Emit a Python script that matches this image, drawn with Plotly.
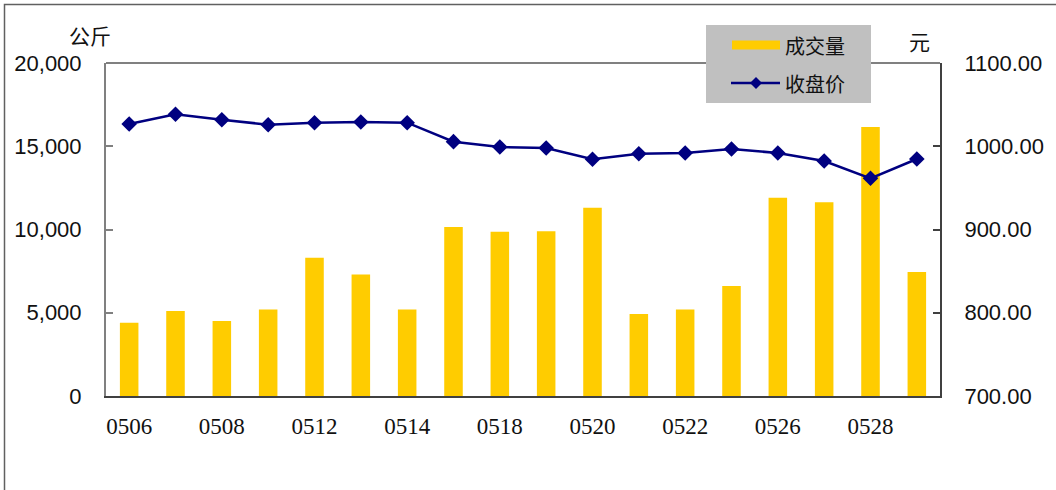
import plotly.graph_objects as go

# ---- data ----
dates = ["0506", "0507", "0508", "0511", "0512", "0513", "0514", "0515", "0518",
         "0519", "0520", "0521", "0522", "0525", "0526", "0527", "0528", "0529"]
volume = [4400, 5100, 4500, 5200, 8300, 7300, 5200, 10150, 9870,
          9890, 11300, 4930, 5200, 6600, 11900, 11630, 16150, 7450]
price = [1026.7, 1038.4, 1031.9, 1025.9, 1028.3, 1029.1, 1028.3, 1005.5, 999.1,
         997.9, 984.3, 991.0, 991.9, 996.7, 991.9, 982.3, 961.5, 984.7]
tick_labels = ["0506", "0508", "0512", "0514", "0518", "0520", "0522", "0526", "0528"]
left_ticks = [0, 5000, 10000, 15000, 20000]
right_ticks = [700, 800, 900, 1000, 1100]

# ---- layout geometry (pixels) ----
W, H = 1056, 490
L, R, T, B = 106, 940, 63, 396


def px(x):
    return (x - L) / (R - L)


def py(y):
    return (B - y) / (B - T)


CJK = "Noto Sans CJK SC, Noto Sans, sans-serif"
SANS = "Liberation Sans, Arial, sans-serif"
SERIF = "Liberation Serif, Times New Roman, serif"

fig = go.Figure()
fig.add_trace(go.Bar(
    x=dates, y=volume, name="成交量",
    marker=dict(color="#FFCC00", line=dict(width=0)),
    yaxis="y", showlegend=False,
))
fig.add_trace(go.Scatter(
    x=dates, y=price, name="收盘价", mode="lines+markers",
    line=dict(color="#000080", width=2.5),
    marker=dict(symbol="diamond", size=12, color="#000080"),
    yaxis="y2", showlegend=False,
))

shapes = [
    # outer chart frame
    dict(type="rect", xref="paper", yref="paper", x0=px(4.5), x1=px(1200), y0=py(4.5), y1=py(700),
         line=dict(color="#606060", width=1.5), fillcolor="rgba(0,0,0,0)", layer="below"),
    # plot area top border
    dict(type="line", xref="paper", yref="paper", x0=0, x1=1, y0=1, y1=1,
         line=dict(color="#808080", width=2), layer="above"),
    # legend box
    dict(type="rect", xref="paper", yref="paper", x0=px(706), x1=px(871), y0=py(103), y1=py(25),
         fillcolor="#C0C0C0", line=dict(width=0), layer="above"),
    # legend bar symbol
    dict(type="rect", xref="paper", yref="paper", x0=px(732), x1=px(780), y0=py(49.5), y1=py(40.5),
         fillcolor="#FFCC00", line=dict(width=0), layer="above"),
    # legend line symbol
    dict(type="line", xref="paper", yref="paper", x0=px(731), x1=px(780), y0=py(83), y1=py(83),
         line=dict(color="#000080", width=2.5), layer="above"),
    dict(type="path", xref="paper", yref="paper", xsizemode="pixel", ysizemode="pixel",
         xanchor=px(756), yanchor=py(83), path="M -6 0 L 0 6 L 6 0 L 0 -6 Z",
         fillcolor="#000080", line=dict(width=0), layer="above"),
]

annotations = [
    dict(text="公斤", xref="paper", yref="paper", x=px(90), y=py(35), xanchor="center", yanchor="middle",
         showarrow=False, font=dict(family=CJK, size=21, color="#111")),
    dict(text="元", xref="paper", yref="paper", x=px(919), y=py(41), xanchor="center", yanchor="middle",
         showarrow=False, font=dict(family=CJK, size=21, color="#111")),
    dict(text="成交量", xref="paper", yref="paper", x=px(783), y=py(46), xanchor="left", yanchor="middle",
         showarrow=False, font=dict(family=CJK, size=20, color="#111")),
    dict(text="收盘价", xref="paper", yref="paper", x=px(783), y=py(83), xanchor="left", yanchor="middle",
         showarrow=False, font=dict(family=CJK, size=20, color="#111")),
]

fig.update_layout(
    width=W, height=H, autosize=False,
    margin=dict(l=L, r=W - R, t=T, b=H - B, pad=0),
    paper_bgcolor="white", plot_bgcolor="white",
    bargap=0.6,
    showlegend=False,
    xaxis=dict(
        type="category", range=[-0.5, len(dates) - 0.5],
        tickmode="array", tickvals=tick_labels, ticktext=tick_labels,
        tickfont=dict(family=SERIF, size=23, color="#111"),
        showline=True, linecolor="#404040", linewidth=2,
        ticks="", showgrid=False, zeroline=False, ticklabelstandoff=8,
    ),
    yaxis=dict(
        range=[0, 20000], tickmode="array", tickvals=left_ticks, tickformat=",",
        ticks="inside", ticklen=7, tickcolor="#808080", tickwidth=1.5,
        showline=True, linecolor="#808080", linewidth=2,
        tickfont=dict(family=SANS, size=22, color="#111"),
        showgrid=False, zeroline=False, ticklabelstandoff=18,
    ),
    yaxis2=dict(
        overlaying="y", side="right", range=[700, 1100],
        tickmode="array", tickvals=right_ticks, tickformat=".2f",
        ticks="inside", ticklen=7, tickcolor="#404040", tickwidth=1.5,
        showline=True, linecolor="#404040", linewidth=2,
        tickfont=dict(family=SANS, size=22, color="#111"),
        showgrid=False, zeroline=False, ticklabelstandoff=18,
    ),
    shapes=shapes,
    annotations=annotations,
)

fig.write_html(
    "out.html",
    config={"displayModeBar": False},
    post_script="document.body.style.margin='0';document.body.style.overflow='hidden';",
)
